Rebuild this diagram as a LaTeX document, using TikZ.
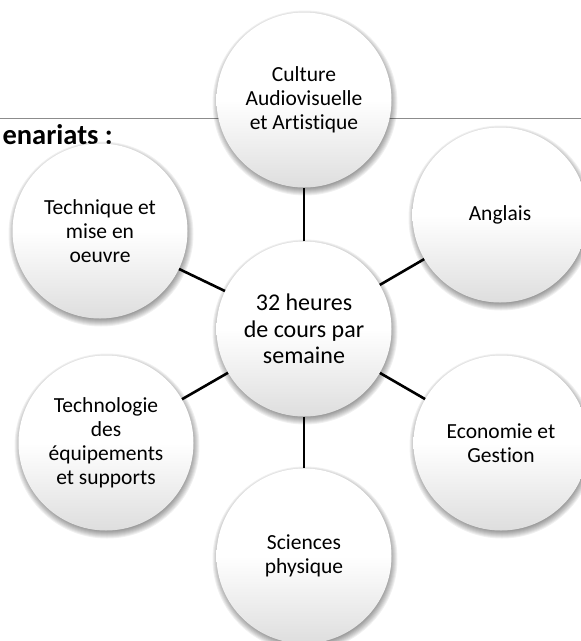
\documentclass[tikz,border=0pt]{standalone}
\usepackage{fontspec}
\setmainfont{Carlito}[Ligatures={NoCommon}]
\begin{document}
\begin{tikzpicture}[x=1pt,y=-1pt,
  bubble/.style={circle, minimum size=175pt, inner sep=0pt, align=center,
    top color=white, bottom color=black!13, middle color=white, text=black,
    font=\fontsize{21.5}{24}\selectfont},
  hubbubble/.style={bubble, font=\fontsize{24}{26.5}\selectfont},
  link/.style={line width=2.6pt, black},
  rulerline/.style={line width=1.4pt, black!45},
  softshadow/.style={black, opacity=0.06}]
\useasboundingbox (0,0) rectangle (581,641);
% header rule and cut title
\coordinate (lineL) at (0,118.5);
\coordinate (lineR) at (581,118.5);
\draw[rulerline] (lineL) -- (lineR);
\node[font=\fontsize{28.5}{30}\selectfont\bfseries, anchor=base east, inner sep=0pt] (title) at (113,144) {enariats :};
% positions
\coordinate (pC) at (304,329);
\coordinate (pT) at (304,100);
\coordinate (pA) at (500,215);
\coordinate (pE) at (501,443);
\coordinate (pS) at (304,556);
\coordinate (pTe) at (106,443);
\coordinate (pTq) at (100,231);
% soft shadows
\foreach \p in {pC,pT,pA,pE,pS,pTe,pTq}{
  \foreach \k in {0,...,7}{
    \fill[softshadow] ([shift={(1,3)}]\p) circle[radius={(85.5+\k)*1pt}];
  }
}
% circles
\node[hubbubble] (c) at (pC) {32 heures\\de cours par\\semaine};
\node[bubble] (cult) at (pT) {Culture\\Audiovisuelle\\et Artistique};
\node[bubble] (angl) at (pA) {Anglais};
\node[bubble] (eco) at (pE) {Economie et\\Gestion};
\node[bubble] (sci) at (pS) {Sciences\\physique};
\node[bubble] (techno) at (pTe) {Technologie\\des\\équipements\\et supports};
\node[bubble] (techq) at (pTq) {Technique et\\mise en\\oeuvre};
% connectors
\draw[link] (c) -- (cult);
\draw[link] (c) -- (angl);
\draw[link] (c) -- (eco);
\draw[link] (c) -- (sci);
\draw[link] (c) -- (techno);
\draw[link] (c) -- (techq);
\end{tikzpicture}
\end{document}
